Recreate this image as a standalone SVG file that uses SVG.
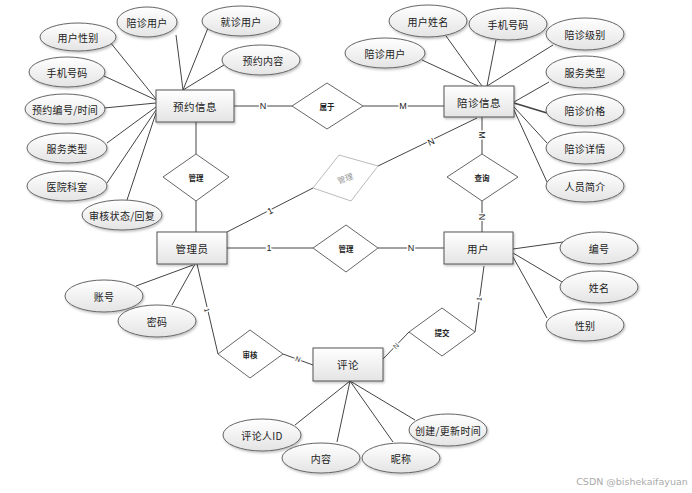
<svg xmlns="http://www.w3.org/2000/svg" width="692" height="493" viewBox="0 0 692 493">
<style>
text{font-family:"Noto Sans CJK SC","Liberation Sans",sans-serif;fill:#222;text-anchor:middle;dominant-baseline:central}
.at{font-size:10px;letter-spacing:0.3px}
.en{font-size:10.5px;letter-spacing:0.5px}
.rl{font-size:7.5px;font-weight:bold}
.lb{font-family:"Liberation Sans",sans-serif;font-size:9px;stroke:#fff;stroke-width:3px;paint-order:stroke}
.e{fill:url(#g);stroke:#666;stroke-width:1;filter:url(#sh)}
.r{fill:url(#g);stroke:#555;stroke-width:1;filter:url(#sh)}
.d{fill:#fff;stroke:#666;stroke-width:1}
.c line{stroke:#444;stroke-width:1}
</style>
<defs>
<linearGradient id="g" x1="0" y1="0" x2="0" y2="1"><stop offset="0" stop-color="#ffffff"/><stop offset="1" stop-color="#e4e4e4"/></linearGradient>
<filter id="sh" x="-10%" y="-10%" width="130%" height="140%"><feDropShadow dx="1" dy="1.5" stdDeviation="0.8" flood-color="#000" flood-opacity="0.25"/></filter>
</defs>
<rect width="692" height="493" fill="#fff"/>
<g class="c" id="connectors">
<line x1="110" y1="42" x2="156" y2="99"/>
<line x1="104" y1="76" x2="156" y2="100"/>
<line x1="104" y1="108" x2="156" y2="103"/>
<line x1="107" y1="143" x2="156" y2="107"/>
<line x1="107" y1="183" x2="156" y2="110"/>
<line x1="127" y1="200" x2="156" y2="113"/>
<line x1="176" y1="35" x2="183" y2="90"/>
<line x1="208" y1="28" x2="183" y2="90"/>
<line x1="224" y1="65" x2="183" y2="90"/>
<line x1="234" y1="106" x2="292" y2="106"/>
<line x1="363" y1="106" x2="444" y2="106"/>
<line x1="196" y1="122" x2="196" y2="154"/>
<line x1="196" y1="201" x2="196" y2="232"/>
<line x1="422" y1="60" x2="478" y2="86"/>
<line x1="446" y1="36" x2="482" y2="86"/>
<line x1="496" y1="40" x2="487" y2="86"/>
<line x1="553" y1="45" x2="487" y2="86"/>
<line x1="549" y1="82" x2="514" y2="102"/>
<line x1="547" y1="113" x2="514" y2="103" style="stroke-width:1.6"/>
<line x1="547" y1="143" x2="514" y2="107"/>
<line x1="547" y1="182" x2="514" y2="110"/>
<line x1="482" y1="117" x2="482" y2="154"/>
<line x1="482" y1="201" x2="482" y2="232"/>
<line x1="477" y1="118" x2="378" y2="166"/>
<line x1="227" y1="232" x2="313" y2="188"/>
<line x1="227" y1="248" x2="313" y2="248"/>
<line x1="378" y1="248" x2="444" y2="248"/>
<line x1="136" y1="286" x2="193" y2="265"/>
<line x1="172" y1="305" x2="195" y2="264"/>
<line x1="197" y1="264" x2="218" y2="354"/>
<line x1="283" y1="354" x2="313" y2="365"/>
<line x1="513" y1="249" x2="563" y2="242"/>
<line x1="513" y1="253" x2="562" y2="282"/>
<line x1="513" y1="257" x2="547" y2="318"/>
<line x1="484" y1="266" x2="475" y2="332"/>
<line x1="409" y1="332" x2="383" y2="359"/>
<line x1="350" y1="381" x2="295" y2="425"/>
<line x1="350" y1="381" x2="337" y2="442"/>
<line x1="350" y1="381" x2="393" y2="442"/>
<line x1="350" y1="381" x2="415" y2="420"/>
<text class="lb" x="263" y="106">N</text>
<text class="lb" x="403" y="106">M</text>
<text class="lb" transform="translate(482,135) rotate(90)">M</text>
<text class="lb" transform="translate(482,217) rotate(90)">N</text>
<text class="lb" transform="translate(431,142) rotate(-26)">N</text>
<text class="lb" transform="translate(270,211) rotate(-27)">1</text>
<text class="lb" x="269" y="248">1</text>
<text class="lb" x="411" y="248">N</text>
<text class="lb" style="font-size:7px" transform="translate(207,310) rotate(77)">1</text>
<text class="lb" style="font-size:7px" transform="translate(298,359) rotate(20)">N</text>
<text class="lb" style="font-size:7px" transform="translate(479,299) rotate(-82)">1</text>
<text class="lb" style="font-size:7px" transform="translate(396,346) rotate(-46)">N</text>
</g>
<g id="n-yuyue"><rect class="r" x="156" y="90" width="78" height="32"/><text class="en" x="195" y="106">预约信息</text></g>
<g id="n-peizhen"><rect class="r" x="444" y="86" width="70" height="31"/><text class="en" x="479" y="102">陪诊信息</text></g>
<g id="n-admin"><rect class="r" x="157" y="232" width="70" height="32"/><text class="en" x="192" y="248">管理员</text></g>
<g id="n-user"><rect class="r" x="444" y="232" width="69" height="32"/><text class="en" x="478" y="248">用户</text></g>
<g id="n-comment"><rect class="r" x="313" y="348" width="70" height="33"/><text class="en" x="348" y="364">评论</text></g>
<g id="r-shuyu"><polygon class="d" points="327,83 363,106 327,129 292,106"/><text class="rl" x="327" y="106">属于</text></g>
<g id="r-guanli1"><polygon class="d" points="196,154 229,177 196,201 163,177"/><text class="rl" x="196" y="177">管理</text></g>
<g id="r-guanli-gray"><polygon points="339,155 378,166 351,201 313,188" fill="#fff" stroke="#bbb"/><text transform="translate(345,178) rotate(-20)" style="font-size:8px;fill:#999">管理</text></g>
<g id="r-chaxun"><polygon class="d" points="482,154 518,177 482,201 447,177"/><text class="rl" x="482" y="177">查询</text></g>
<g id="r-guanli2"><polygon class="d" points="346,225 378,248 346,272 313,248"/><text class="rl" x="346" y="248">管理</text></g>
<g id="r-shenhe"><polygon class="d" points="250,330 283,354 250,378 218,354"/><text class="rl" x="250" y="354">审核</text></g>
<g id="r-tijiao"><polygon class="d" points="442,308 475,332 442,356 409,332"/><text class="rl" x="442" y="332">提交</text></g>
<g id="a-yy-xb"><ellipse class="e" cx="78" cy="37" rx="38" ry="14"/><text class="at" x="78" y="37">用户性别</text></g>
<g id="a-yy-pz"><ellipse class="e" cx="147" cy="22" rx="30" ry="15"/><text class="at" x="147" y="22">陪诊用户</text></g>
<g id="a-yy-jz"><ellipse class="e" cx="241" cy="21" rx="39" ry="15"/><text class="at" x="241" y="21">就诊用户</text></g>
<g id="a-yy-nr"><ellipse class="e" cx="261" cy="60" rx="39" ry="15"/><text class="at" x="263" y="60">预约内容</text></g>
<g id="a-yy-sj"><ellipse class="e" cx="67" cy="72" rx="38" ry="15"/><text class="at" x="67" y="72">手机号码</text></g>
<g id="a-yy-bh"><ellipse class="e" cx="65" cy="109" rx="40" ry="15"/><text class="at" x="65" y="109">预约编号/时间</text></g>
<g id="a-yy-fw"><ellipse class="e" cx="67" cy="148" rx="40" ry="15"/><text class="at" x="67" y="148">服务类型</text></g>
<g id="a-yy-ks"><ellipse class="e" cx="67" cy="186" rx="40" ry="15"/><text class="at" x="67" y="186">医院科室</text></g>
<g id="a-yy-zt"><ellipse class="e" cx="122" cy="215" rx="40" ry="15"/><text class="at" x="122" y="215">审核状态/回复</text></g>
<g id="a-pz-yh"><ellipse class="e" cx="385" cy="53" rx="40" ry="15"/><text class="at" x="385" y="53">陪诊用户</text></g>
<g id="a-pz-xm"><ellipse class="e" cx="428" cy="21" rx="39" ry="16"/><text class="at" x="428" y="21">用户姓名</text></g>
<g id="a-pz-sj"><ellipse class="e" cx="508" cy="24" rx="39" ry="16"/><text class="at" x="508" y="24">手机号码</text></g>
<g id="a-pz-jb"><ellipse class="e" cx="585" cy="34" rx="39" ry="16"/><text class="at" x="585" y="34">陪诊级别</text></g>
<g id="a-pz-fw"><ellipse class="e" cx="585" cy="72" rx="39" ry="16"/><text class="at" x="585" y="72">服务类型</text></g>
<g id="a-pz-jg"><ellipse class="e" cx="585" cy="110" rx="39" ry="16"/><text class="at" x="585" y="110">陪诊价格</text></g>
<g id="a-pz-xq"><ellipse class="e" cx="585" cy="148" rx="39" ry="16"/><text class="at" x="585" y="148">陪诊详情</text></g>
<g id="a-pz-jj"><ellipse class="e" cx="585" cy="186" rx="39" ry="16"/><text class="at" x="585" y="186">人员简介</text></g>
<g id="a-ad-zh"><ellipse class="e" cx="104" cy="296" rx="39" ry="16"/><text class="at" x="104" y="296">账号</text></g>
<g id="a-ad-mm"><ellipse class="e" cx="157" cy="321" rx="39" ry="16"/><text class="at" x="157" y="321">密码</text></g>
<g id="a-us-bh"><ellipse class="e" cx="599" cy="248" rx="39" ry="16"/><text class="at" x="599" y="248">编号</text></g>
<g id="a-us-xm"><ellipse class="e" cx="599" cy="287" rx="39" ry="16"/><text class="at" x="599" y="287">姓名</text></g>
<g id="a-us-xb"><ellipse class="e" cx="585" cy="325" rx="39" ry="16"/><text class="at" x="585" y="325">性别</text></g>
<g id="a-pl-id"><ellipse class="e" cx="262" cy="435" rx="39" ry="16"/><text class="at" x="262" y="435">评论人ID</text></g>
<g id="a-pl-nr"><ellipse class="e" cx="321" cy="458" rx="39" ry="15"/><text class="at" x="321" y="458">内容</text></g>
<g id="a-pl-nc"><ellipse class="e" cx="401" cy="458" rx="39" ry="15"/><text class="at" x="401" y="458">昵称</text></g>
<g id="a-pl-sj"><ellipse class="e" cx="448" cy="430" rx="39" ry="16"/><text class="at" x="448" y="430">创建/更新时间</text></g>
<text x="632" y="481" style="font-family:'DejaVu Sans',sans-serif;font-size:9.5px;fill:#aaa">CSDN @bishekaifayuan</text>
</svg>
